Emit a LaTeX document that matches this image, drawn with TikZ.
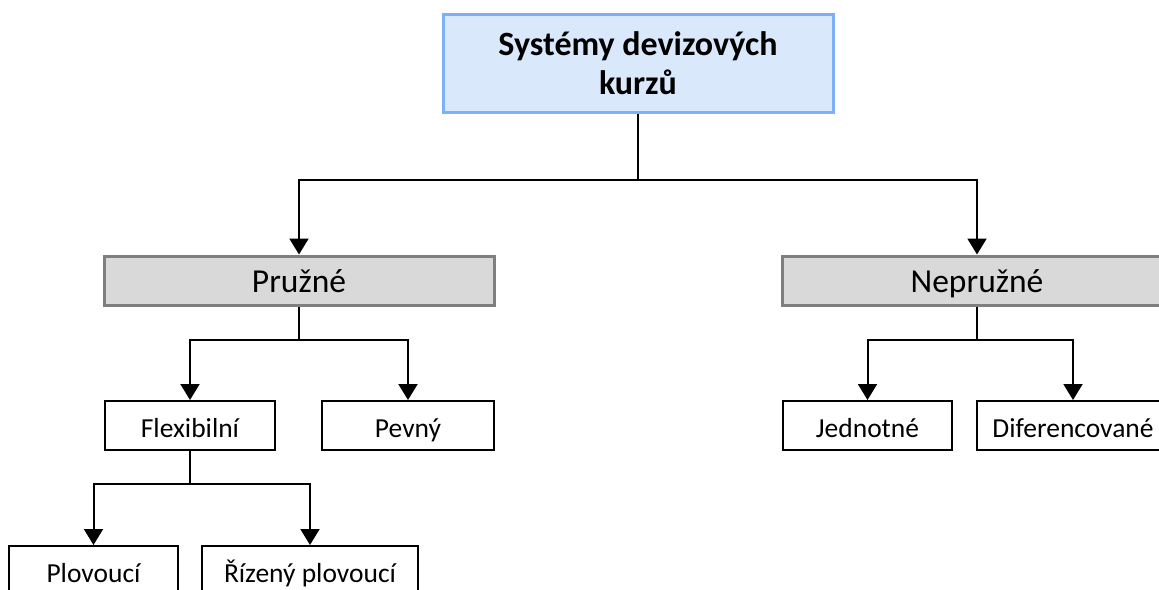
\documentclass[tikz,border=0pt]{standalone}
\usepackage{fontspec}
\setmainfont{Carlito}
\usetikzlibrary{arrows.meta}
\definecolor{topfill}{RGB}{218,232,252}
\definecolor{topdraw}{RGB}{126,176,246}
\definecolor{midfill}{RGB}{217,217,217}
\definecolor{middraw}{RGB}{127,127,127}
\tikzset{
  topbox/.style={draw=topdraw, fill=topfill, line width=3pt, minimum width=390pt, minimum height=98pt, inner sep=0pt, align=center, font=\fontsize{34}{39}\selectfont\bfseries},
  midbox/.style={draw=middraw, fill=midfill, line width=3pt, minimum width=390pt, minimum height=49pt, inner sep=0pt, text height=26.5pt, text depth=2.5pt, font=\fontsize{33.5}{40}\selectfont},
  leafbox/.style={draw=black, fill=white, line width=2pt, minimum height=49pt, inner sep=0pt, text height=23.5pt, text depth=0pt, font=\fontsize{27.5}{33}\selectfont},
  conn/.style={draw=black, line width=2pt, -{Triangle[width=19pt,length=16pt]}},
  plain/.style={draw=black, line width=2pt}
}
\begin{document}
\begin{tikzpicture}[x=1pt,y=-1pt]
\useasboundingbox (0,0) rectangle (1159,589);
\clip (0,0) rectangle (1159,589);
\node[topbox] (sys) at (638,63) {\raisebox{-2pt}{Systémy devizových}\\\raisebox{-2pt}{kurzů}};
\node[midbox] (pruz) at (299,280.5) {Pružné};
\node[midbox] (nepruz) at (977,280.5) {Nepružné};
\node[leafbox, minimum width=170pt] (flex) at (190,425.5) {Flexibilní};
\node[leafbox, minimum width=172pt] (pev) at (408,425.5) {Pevný};
\node[leafbox, minimum width=169pt] (jed) at (867.5,425.5) {Jednotné};
\node[leafbox, minimum width=192pt] (dif) at (1073,425.5) {Diferencované};
\node[leafbox, minimum width=169pt] (plov) at (93.5,570.5) {Plovoucí};
\node[leafbox, minimum width=216pt] (riz) at (310,570.5) {Řízený plovoucí};
\coordinate (j1) at (638,180);
\coordinate (j2) at (299,340);
\coordinate (j3) at (977,340);
\coordinate (j4) at (190,484);
\draw[plain] (sys.south) -- (j1);
\draw[conn] (j1) -| (pruz.north);
\draw[conn] (j1) -| (nepruz.north);
\draw[plain] (pruz.south) -- (j2);
\draw[conn] (j2) -| (flex.north);
\draw[conn] (j2) -| (pev.north);
\draw[plain] (nepruz.south) -- (j3);
\draw[conn] (j3) -| (jed.north);
\draw[conn] (j3) -| (dif.north);
\draw[plain] (flex.south) -- (j4);
\draw[conn] (j4) -| (plov.north);
\draw[conn] (j4) -| (riz.north);
\end{tikzpicture}
\end{document}
